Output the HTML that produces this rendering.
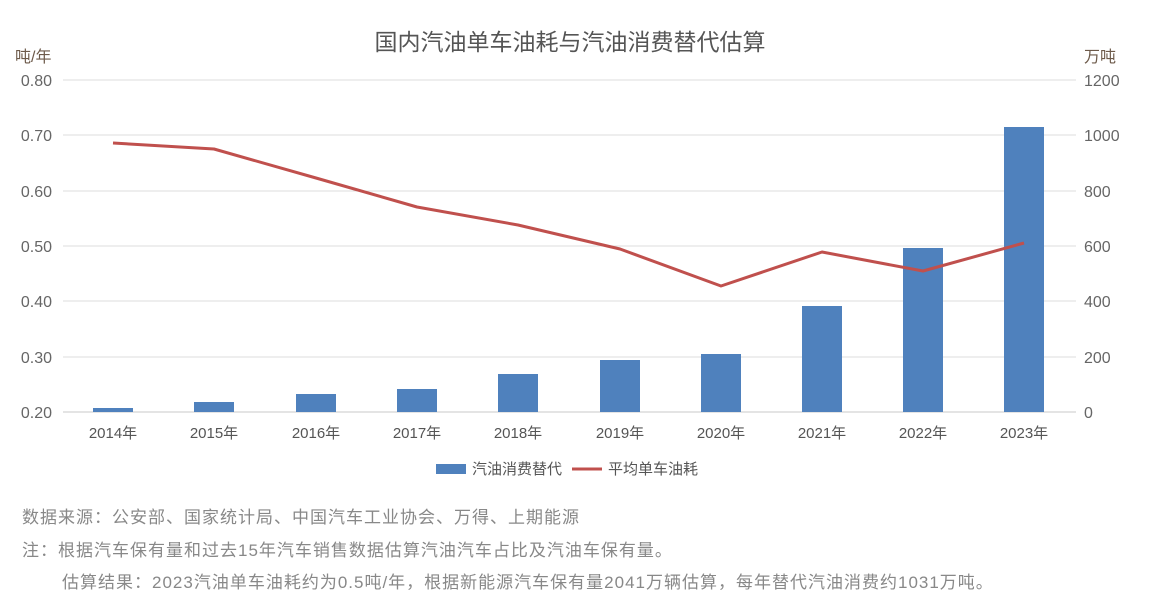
<!DOCTYPE html>
<html><head><meta charset="utf-8"><style>
body{margin:0;background:#fff;}
svg text{font-family:"Liberation Sans","Noto Sans CJK SC",sans-serif;}
</style></head><body>
<svg width="1149" height="601" xmlns="http://www.w3.org/2000/svg">
<rect width="1149" height="601" fill="#fff"/>
<text x="570" y="50" font-size="23" fill="#555" text-anchor="middle">国内汽油单车油耗与汽油消费替代估算</text>
<text x="15" y="62" font-size="16" fill="#6d5a4a">吨/年</text>
<text x="1084" y="62" font-size="16" fill="#6d5a4a">万吨</text>
<g stroke="#dcdcdc" stroke-width="1">
<line x1="63" x2="1076" y1="80" y2="80"/>
<line x1="63" x2="1076" y1="135" y2="135"/>
<line x1="63" x2="1076" y1="191" y2="191"/>
<line x1="63" x2="1076" y1="246" y2="246"/>
<line x1="63" x2="1076" y1="301" y2="301"/>
<line x1="63" x2="1076" y1="357" y2="357"/>
</g>
<line x1="63" x2="1076" y1="412" y2="412" stroke="#c8c8c8"/>
<g font-size="16" fill="#666" text-anchor="end">
<text x="52" y="86">0.80</text><text x="52" y="141">0.70</text><text x="52" y="197">0.60</text>
<text x="52" y="252">0.50</text><text x="52" y="307">0.40</text><text x="52" y="363">0.30</text><text x="52" y="418">0.20</text>
</g>
<g font-size="16" fill="#666" text-anchor="start">
<text x="1084" y="86">1200</text><text x="1084" y="141">1000</text><text x="1084" y="197">800</text>
<text x="1084" y="252">600</text><text x="1084" y="307">400</text><text x="1084" y="363">200</text><text x="1084" y="418">0</text>
</g>
<g fill="#4f81bd">
<rect x="93" y="408" width="40" height="4"/>
<rect x="194" y="402" width="40" height="10"/>
<rect x="296" y="394" width="40" height="18"/>
<rect x="397" y="389" width="40" height="23"/>
<rect x="498" y="374" width="40" height="38"/>
<rect x="600" y="360" width="40" height="52"/>
<rect x="701" y="354" width="40" height="58"/>
<rect x="802" y="306" width="40" height="106"/>
<rect x="903" y="248" width="40" height="164"/>
<rect x="1004" y="127" width="40" height="285"/>
</g>
<polyline fill="none" stroke="#c0504d" stroke-width="3" stroke-linejoin="round" points="113,143 214,149 316,178 417,207 518,225 620,249 721,286 822,252 923,271 1024,243"/>
<g font-size="15" fill="#555" text-anchor="middle">
<text x="113" y="438">2014年</text><text x="214" y="438">2015年</text><text x="316" y="438">2016年</text>
<text x="417" y="438">2017年</text><text x="518" y="438">2018年</text><text x="620" y="438">2019年</text>
<text x="721" y="438">2020年</text><text x="822" y="438">2021年</text><text x="923" y="438">2022年</text><text x="1024" y="438">2023年</text>
</g>
<rect x="436" y="464" width="30" height="10" fill="#4f81bd"/>
<text x="472" y="474" font-size="15" fill="#555">汽油消费替代</text>
<line x1="572" x2="602" y1="469" y2="469" stroke="#c0504d" stroke-width="3"/>
<text x="608" y="474" font-size="15" fill="#555">平均单车油耗</text>
<g font-size="17" fill="#888" letter-spacing="1">
<text x="22" y="523">数据来源：公安部、国家统计局、中国汽车工业协会、万得、上期能源</text>
<text x="22" y="556">注：根据汽车保有量和过去15年汽车销售数据估算汽油汽车占比及汽油车保有量。</text>
<text x="62" y="588">估算结果：2023汽油单车油耗约为0.5吨/年，根据新能源汽车保有量2041万辆估算，每年替代汽油消费约1031万吨。</text>
</g>
</svg>
</body></html>
